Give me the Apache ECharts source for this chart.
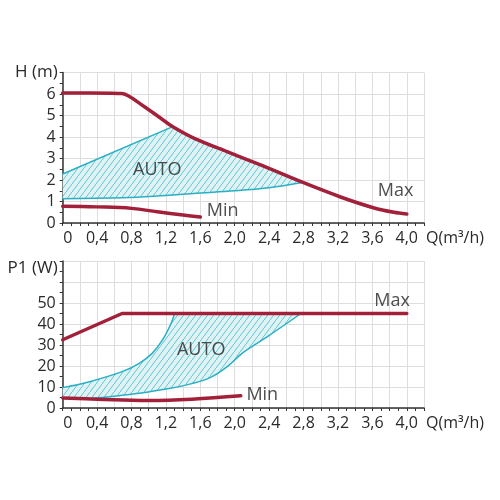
<!DOCTYPE html>
<html>
<head>
<meta charset="utf-8">
<script src="https://cdn.jsdelivr.net/npm/echarts@6/dist/echarts.min.js"></script>
<style>
  html, body { margin: 0; background: #fff; }
  #main { width: 500px; height: 500px; }
</style>
</head>
<body>
<div id="main"></div>
<script>
// flow Q (m3/h) against head H (m) and power P1 (W)
const headMax = [[0, 6.05], [0.55, 6.04], [0.69, 6.02], [0.95, 5.41], [1.14, 4.87], [1.28, 4.48], [1.53, 3.94], [1.91, 3.32], [2.3, 2.7], [2.77, 1.92], [3.23, 1.21], [3.62, 0.7], [3.85, 0.5], [4.0, 0.42]]
const headMin = [[0, 0.78], [0.4, 0.75], [0.8, 0.68], [1.1, 0.52], [1.4, 0.37], [1.6, 0.28]]
const headAutoUpper = [[0, 2.28], [1.28, 4.48]]
const headAutoLower = [[0, 1.13], [0.7, 1.17], [1.2, 1.28], [1.6, 1.39], [2.0, 1.5], [2.4, 1.64], [2.77, 1.87]]

const powerMax = [[0, 32.5], [0.69, 45], [4.0, 45]]
const powerMin = [[0, 4.8], [0.4, 4.2], [1.0, 3.6], [1.5, 4.2], [2.07, 5.8]]
const powerAutoUpper = [[0, 9.7], [0.31, 12.5], [0.69, 17.3], [0.89, 21.3], [1.04, 26], [1.16, 32.4], [1.26, 40.3], [1.3, 45]]
const powerAutoLower = [[0.35, 4.6], [0.6, 5.6], [0.89, 7], [1.2, 9], [1.5, 11.6], [1.72, 14.6], [1.91, 19.6], [2.1, 26.5], [2.38, 34], [2.77, 45]]

const headLabels = [['AUTO', 1.1, 2.49], ['Min', 1.86, 0.58], ['Max', 3.87, 1.49]]
const powerLabels = [['AUTO', 1.61, 27.6], ['Min', 2.32, 6.2], ['Max', 3.83, 51.2]]

const qMax = 4.2
const headAxisMax = 7
const powerAxisMax = 70
const headLabelMax = 6
const powerLabelMax = 50

const RED = '#a3203a'
const CYAN = '#2aafc4'
const FONT = 'Open Sans'

const hatch = document.createElement('canvas')
hatch.width = 6
hatch.height = 8
const ctx = hatch.getContext('2d')
ctx.fillStyle = '#dff3f5'
ctx.fillRect(0, 0, 6, 8)
ctx.strokeStyle = '#55bfcc'
ctx.lineWidth = 0.9
ctx.beginPath()
ctx.moveTo(-1.5, 10)
ctx.lineTo(7.5, -2)
ctx.stroke()

// area between the auto curves, closed along max (and min below)
const headAutoArea = headAutoUpper
  .concat(headMax.filter((p) => p[0] > 1.28 && p[0] < 2.77))
  .concat(headAutoLower.slice().reverse())
const powerAutoArea = powerAutoUpper
  .concat(powerAutoLower.slice().reverse())
  .concat([[0.2, 4.4], [0, 4.8]])

const chart = echarts.init(document.getElementById('main'))

function xAxis(i) {
  return {
    gridIndex: i, type: 'value', min: 0, max: qMax, interval: 0.2,
    name: 'Q(m³/h)', nameLocation: 'end', nameGap: 2,
    nameTextStyle: { fontFamily: FONT, fontSize: 16, color: '#2a2a2a', align: 'left', verticalAlign: 'top', padding: [7, 0, 0, 0] },
    axisLine: { lineStyle: { color: '#333', width: 1.5 } },
    axisTick: { length: 3, lineStyle: { color: '#333' } },
    minorTick: { show: true, splitNumber: 2, length: 3, lineStyle: { color: '#333' } },
    splitLine: { lineStyle: { color: '#dedede' } },
    axisLabel: {
      fontFamily: FONT, fontSize: 16, color: '#2a2a2a', margin: 7, showMaxLabel: true,
      formatter: (v) => {
        const t = Math.round(v * 10)
        if (t % 4 !== 0 || v > 4.01) return ''
        if (t === 0) return '{z|0}'
        return v.toFixed(1).replace('.', ',')
      },
      rich: { z: { fontFamily: FONT, fontSize: 16, color: '#2a2a2a', padding: [0, 0, 0, 10] } },
    },
  }
}

function yAxis(i, name, max, interval, labelMax, gap) {
  return {
    gridIndex: i, type: 'value', min: 0, max, interval,
    name, nameLocation: 'end', nameGap: gap,
    nameTextStyle: { fontFamily: FONT, fontSize: 17, color: '#2a2a2a', align: 'right', verticalAlign: 'middle', padding: [0, 5, 0, 0] },
    axisLine: { show: true, lineStyle: { color: '#333', width: 1.5 } },
    axisTick: { show: true, length: 3, lineStyle: { color: '#333' } },
    minorTick: { show: true, splitNumber: 2, length: 3, lineStyle: { color: '#333' } },
    splitLine: { lineStyle: { color: '#dedede' } },
    axisLabel: {
      fontFamily: FONT, fontSize: 16, color: '#2a2a2a', margin: 7, showMaxLabel: true,
      formatter: (v) => (v > labelMax ? '' : String(v)),
    },
  }
}

function area(i, points) {
  return {
    type: 'custom', xAxisIndex: i, yAxisIndex: i, silent: true, z: 1,
    data: [0],
    renderItem: (params, api) => ({
      type: 'polygon',
      shape: { points: points.map((p) => api.coord(p)) },
      style: { fill: { image: hatch, repeat: 'repeat' }, stroke: null },
    }),
  }
}

function curve(i, data, color, width, z, smooth) {
  return {
    type: 'line', xAxisIndex: i, yAxisIndex: i, data, showSymbol: false, silent: true, z,
    smooth: smooth || false,
    lineStyle: { color, width, cap: 'round', join: 'round' },
  }
}

function texts(i, list) {
  return {
    type: 'scatter', xAxisIndex: i, yAxisIndex: i, symbolSize: 0, silent: true, z: 5,
    data: list.map(([text, q, v]) => ({ value: [q, v], name: text })),
    label: { show: true, position: 'inside', formatter: '{b}', fontFamily: FONT, fontSize: 18, color: '#222' },
  }
}

chart.setOption({
  animation: false,
  grid: [
    { left: 62.7, right: 76, top: 72.5, bottom: 277 },
    { left: 62.7, right: 76, top: 261, bottom: 92 },
  ],
  xAxis: [xAxis(0), xAxis(1)],
  yAxis: [
    yAxis(0, 'H (m)', headAxisMax, 1, headLabelMax, 0),
    yAxis(1, 'P1 (W)', powerAxisMax, 10, powerLabelMax, -7),
  ],
  series: [
    area(0, headAutoArea),
    curve(0, headAutoUpper, CYAN, 1.5, 3),
    curve(0, headAutoLower, CYAN, 1.5, 3, 0.4),
    curve(0, headMax, RED, 3.5, 4, 0.3),
    curve(0, headMin, RED, 3.5, 4, 0.4),
    texts(0, headLabels),
    area(1, powerAutoArea),
    curve(1, powerAutoUpper, CYAN, 1.5, 3, 0.4),
    curve(1, powerAutoLower, CYAN, 1.5, 3, 0.4),
    curve(1, powerMax, RED, 3.5, 4),
    curve(1, powerMin, RED, 3.5, 4, 0.4),
    texts(1, powerLabels),
  ],
})
</script>
</body>
</html>
